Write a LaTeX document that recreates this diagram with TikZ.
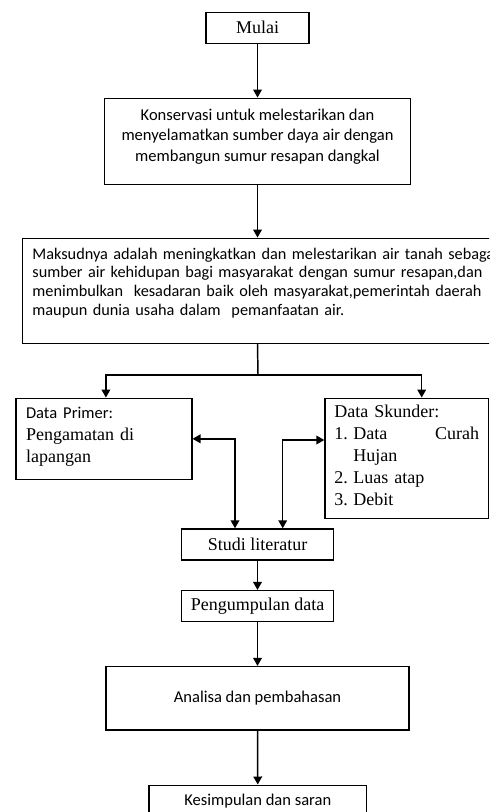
\documentclass[tikz,border=0pt]{standalone}
\usepackage{fontspec}
\setmainfont{Liberation Serif}
\newfontfamily\carl{Carlito}
\usetikzlibrary{arrows.meta,positioning,calc}
\tikzstyle{Fbox}=[draw,line width=1.1pt,inner sep=0pt,align=center]
\tikzstyle{Ftxt}=[font=\carl\fontsize{12.4}{15.4}\selectfont]
\tikzstyle{Fser}=[font=\fontsize{13.5}{16.5}\selectfont]
\tikzstyle{aS}=[line width=1.1pt,-{Triangle[length=6pt,width=6.5pt]}]
\tikzstyle{aD}=[line width=1.1pt,{Triangle[length=6pt,width=6.5pt]}-{Triangle[length=6pt,width=6.5pt]}]
\tikzstyle{ln}=[line width=1.1pt]

\begin{document}
\begin{tikzpicture}[x=0.75pt,y=-0.75pt]
  \useasboundingbox (0,0) rectangle (489,812);
  \clip (0,0) rectangle (489,812);

  \node[Fbox,Fser,minimum width=77.25pt,minimum height=23.25pt] (mulai) at (257.5,27.75) {Mulai};
  \node[Fbox,Ftxt,minimum width=229.8pt,minimum height=64.5pt] (kons) at (257.5,141.3)
    {Konservasi untuk melestarikan dan\\ menyelamatkan sumber daya air dengan\\ membangun sumur resapan dangkal\\[-6pt]\mbox{}};
  \node[Fbox,font=\carl\fontsize{12.2}{14}\selectfont,anchor=west,align=left,text width=355pt,
        inner xsep=7.5pt,minimum height=78.75pt] (maksud) at (21.7,290.8)
    {Maksudnya adalah meningkatkan dan melestarikan air tanah sebagai\\
     sumber air kehidupan bagi masyarakat dengan sumur resapan,dan\\
     menimbulkan \ kesadaran baik oleh masyarakat,pemerintah daerah\\
     maupun dunia usaha dalam \ pemanfaatan air.\\ \mbox{}};
  \coordinate (split) at (258,375);

  \node[Fbox,Fser,align=left,text width=116.8pt,inner xsep=7.5pt,minimum height=60.75pt] (primer) at (103.9,438.8)
    {{\carl\fontsize{12.4}{15}\selectfont Data Primer:}\\ Pengamatan di\\ lapangan\\[-10pt]\mbox{}};
  \node[Fbox,Fser,align=left,text width=108.5pt,inner xsep=7pt,minimum height=90pt] (skunder) at (406.7,458.3)
    {Data Skunder:\\
     \makebox[14.25pt][l]{1.}Data\hfill Curah\\
     \hspace*{14.25pt}Hujan\\
     \makebox[14.25pt][l]{2.}Luas atap\\
     \makebox[14.25pt][l]{3.}Debit\\[-12.5pt]\mbox{}};

  \node[Fbox,Fser,minimum width=113.7pt,minimum height=23.25pt] (studi) at (257.5,544.5) {Studi literatur};
  \node[Fbox,Fser,minimum width=113.7pt,minimum height=23.25pt] (kumpul) at (257.5,606.2) {Pengumpulan data};
  \node[Fbox,Ftxt,minimum width=227.25pt,minimum height=47.5pt] (analisa) at (257.5,698.3) {Analisa dan pembahasan};
  \node[Fbox,Ftxt,anchor=north,minimum width=163.3pt,minimum height=30pt] (simpul) at (257.8,784.5)
    {Kesimpulan dan saran\\[-7pt]\mbox{}};

  % alur utama
  \draw[aS] (mulai) -- (kons);
  \draw[aS] (kons) -- (kons.south |- maksud.north);
  \draw[ln] (kons.south |- maksud.south) -- (split);
  \draw[aS] (split) -| ($(primer.north)+(2,0)$);
  \draw[aS] (split) -| ($(skunder.north)+(15,0)$);

  % studi literatur dua arah
  \draw[aD] (primer.east) -| ($(studi.north)+(-22.5,0)$);
  \draw[aD] ($(skunder.west)+(0,-18.3)$) -| ($(studi.north)+(25.2,0)$);

  \draw[aS] (studi) -- (kumpul);
  \draw[aS] (kumpul) -- (analisa);
  \draw[aS] (analisa) -- (simpul);
\end{tikzpicture}
\end{document}
